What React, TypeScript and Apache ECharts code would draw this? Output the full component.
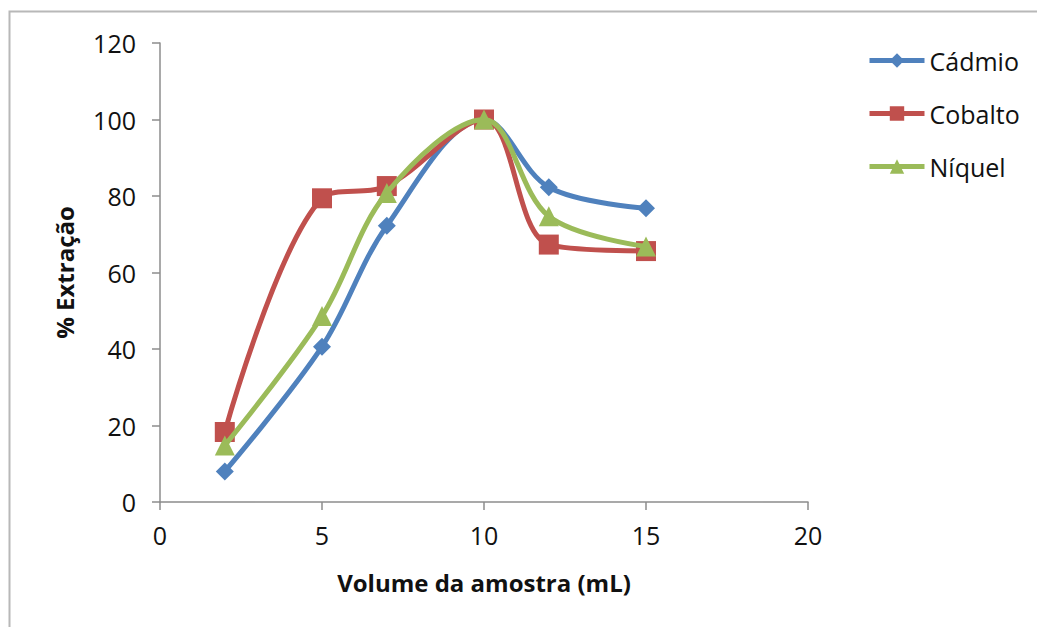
import React, { useEffect, useRef } from "react";
import * as echarts from "echarts";

const volumes = [2, 5, 7, 10, 12, 15];
const cadmio = [8, 40.6, 72.2, 100, 82.3, 76.8];
const cobalto = [18.3, 79.4, 82.6, 100, 67.3, 65.6];
const niquel = [14.8, 48.6, 80.8, 100, 74.7, 66.8];
const seriesNames = ["Cádmio", "Cobalto", "Níquel"];
const colors = ["#4F81BD", "#C0504D", "#9BBB59"];
const symbols = ["diamond", "rect", "triangle"];
const symbolSizes = [18, 20, 20];

export default function App() {
  const ref = useRef<HTMLDivElement>(null);
  useEffect(() => {
    if (!ref.current) return;
    const chart = echarts.init(ref.current, null, { renderer: "svg" });
    const datasets = [cadmio, cobalto, niquel];
    const font = "'Open Sans', 'Liberation Sans', sans-serif";
    chart.setOption({
      animation: false,
      backgroundColor: "#ffffff",
      textStyle: { fontFamily: font },
      graphic: [
        {
          type: "rect",
          shape: { x: 9.5, y: 11.5, width: 1100, height: 700 },
          style: { fill: "none", stroke: "#b8b8b8", lineWidth: 2 },
          silent: true,
        },
      ],
      grid: { left: 160, right: 229, top: 43, bottom: 125 },
      legend: {
        orient: "vertical",
        left: 867,
        top: 48,
        padding: 0,
        itemWidth: 55,
        itemHeight: 18,
        itemGap: 28,
        lineStyle: { width: 5 },
        textStyle: { fontSize: 25, color: "#111", fontFamily: font },
        data: seriesNames,
      },
      xAxis: {
        type: "value",
        min: 0,
        max: 20,
        interval: 5,
        name: "Volume da amostra (mL)",
        nameLocation: "middle",
        nameGap: 68,
        nameTextStyle: { fontSize: 24, fontWeight: "bold", color: "#111", fontFamily: font },
        axisLine: { show: true, lineStyle: { color: "#8c8c8c", width: 1.5 } },
        axisTick: { show: true, length: 8, inside: false, lineStyle: { color: "#8c8c8c", width: 1.5 } },
        axisLabel: { fontSize: 25, color: "#111", margin: 20, fontFamily: font },
        splitLine: { show: false },
      },
      yAxis: {
        type: "value",
        min: 0,
        max: 120,
        interval: 20,
        name: "% Extração",
        nameLocation: "middle",
        nameGap: 84,
        nameTextStyle: { fontSize: 24, fontWeight: "bold", color: "#111", fontFamily: font },
        axisLine: { show: true, lineStyle: { color: "#8c8c8c", width: 1.5 } },
        axisTick: { show: true, length: 8, inside: false, lineStyle: { color: "#8c8c8c", width: 1.5 } },
        axisLabel: { fontSize: 25, color: "#111", margin: 24, fontFamily: font },
        splitLine: { show: false },
      },
      series: seriesNames.map((name, i) => ({
        name,
        type: "line",
        smooth: 0.35,
        data: volumes.map((v, j) => [v, datasets[i][j]]),
        symbol: symbols[i],
        symbolSize: symbolSizes[i],
        showAllSymbol: true,
        itemStyle: { color: colors[i] },
        lineStyle: { color: colors[i], width: 5 },
        z: 2 + i,
      })),
    });
    return () => chart.dispose();
  }, []);
  return (
    <div
      ref={ref}
      style={{ position: "fixed", left: 0, top: 0, width: 1037, height: 627 }}
    />
  );
}
